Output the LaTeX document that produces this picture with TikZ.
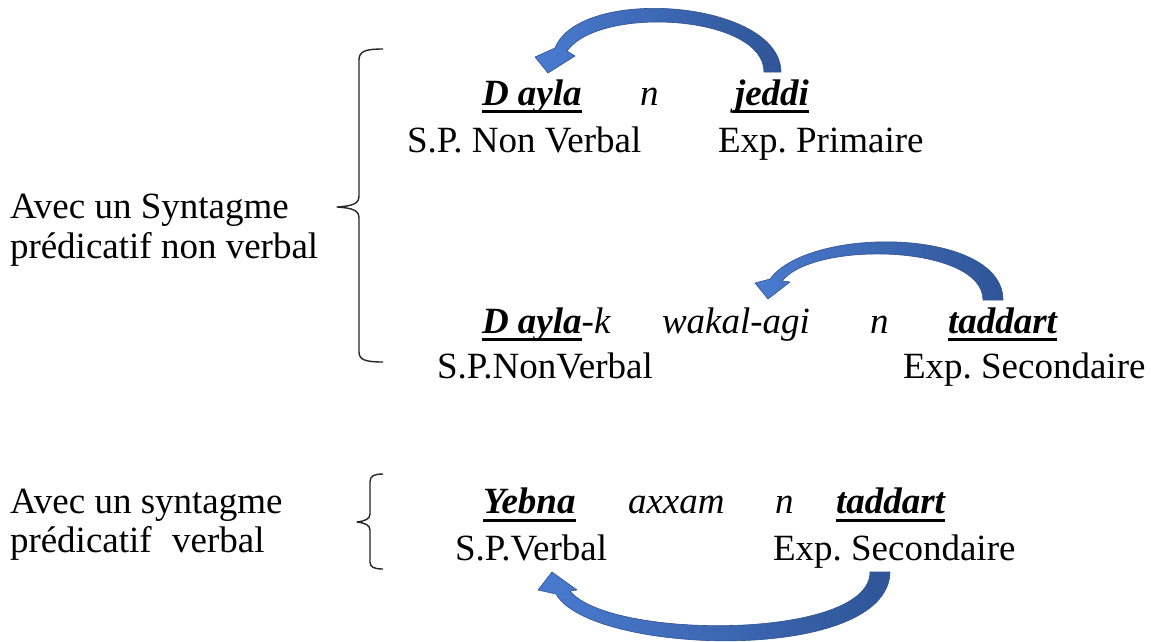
\documentclass[tikz,border=0pt]{standalone}
\usepackage{fontspec}
\setmainfont{Liberation Serif}[
  BoldFont={Liberation Serif Bold},
  ItalicFont={Liberation Serif Italic},
  BoldItalicFont={Liberation Serif Bold Italic}]
\frenchspacing
\begin{document}
\begin{tikzpicture}[x=1pt,y=-1pt,
  txt/.style={anchor=base west,inner sep=0pt,outer sep=0pt,font=\fontsize{37}{42}\selectfont},
  it/.style={txt,font=\fontsize{37}{42}\selectfont\itshape},
  bi/.style={txt,font=\fontsize{37}{42}\selectfont\bfseries\itshape},
  ulline/.style={line width=3pt,black},
  bracestyle/.style={line width=1.4pt,draw=black!85,line join=round},
  blockarrow/.style={left color=arrowlight,right color=arrowdark,draw=arrowedge,line width=0.6pt,line join=round}]
\definecolor{arrowlight}{HTML}{4A7BD0}
\definecolor{arrowdark}{HTML}{2F5597}
\definecolor{arrowedge}{HTML}{2F528F}
\useasboundingbox (0,0) rectangle (1151,641);
\fill[white] (0,0) rectangle (1151,641);

% left labels
\node[txt] (l1a) at (10,218) {Avec un Syntagme};
\node[txt] (l1b) at (10,258) {prédicatif non verbal};
\node[txt] (l2a) at (10,513) {Avec un syntagme};
\node[txt] (l2b) at (10,552) {prédicatif\hspace{0.3em} verbal};

% braces
\draw[bracestyle] (383,49) .. controls (366,49) and (359,51) .. (359,60) -- (359,196)
  .. controls (359,204) and (352,206) .. (337,207) .. controls (352,208) and (359,210) .. (359,218)
  -- (359,352) .. controls (359,360) and (366,362) .. (383,362);
\draw[bracestyle] (383,474) .. controls (374,474) and (370,476) .. (370,482) -- (370,514)
  .. controls (370,519) and (365,521) .. (357,522) .. controls (365,523) and (370,525) .. (370,530)
  -- (370,562) .. controls (370,567) and (374,569) .. (383,569);

% row 1
\node[bi] (da1) at (482,105) {D ayla};
\node[it] (n1) at (640,105) {n};
\node[bi] (je) at (735,105) {jeddi};
\draw[ulline] ([yshift=-6pt]da1.base west) -- ([yshift=-6pt]da1.base east);
\draw[ulline] ([yshift=-6pt,xshift=-2pt]je.base west) -- ([yshift=-6pt]je.base east);
% row 2
\node[txt] (sp1) at (407,152) {S.P. Non Verbal};
\node[txt] (ep1) at (718,152) {Exp. Primaire};

% row 3
\node[bi] (da2) at (482,333) {D ayla};
\node[it] (k2) at (da2.base east) {-k};
\node[it] (wa) at (662,333) {wakal-agi};
\node[it] (n2) at (870,333) {n};
\node[bi] (ta1) at (948,333) {taddart};
\draw[ulline] ([yshift=-6pt]da2.base west) -- ([yshift=-6pt]da2.base east);
\draw[ulline] ([yshift=-6pt]ta1.base west) -- ([yshift=-6pt]ta1.base east);
% row 4
\node[txt] (sp2) at (437,378) {S.P.NonVerbal};
\node[txt] (es1) at (903,378) {Exp. Secondaire};

% row 5
\node[bi] (ye) at (483,513) {Yebna};
\node[it] (ax) at (628,513) {axxam};
\node[it] (n3) at (775,513) {n};
\node[bi] (ta2) at (836,513) {taddart};
\draw[ulline] ([yshift=-7pt]ye.base west) -- ([yshift=-7pt]ye.base east);
\draw[ulline] ([yshift=-7pt]ta2.base west) -- ([yshift=-7pt]ta2.base east);
% row 6
\node[txt] (sp3) at (455,560) {S.P.Verbal};
\node[txt] (es2) at (773,560) {Exp. Secondaire};

% curved block arrows
\path[blockarrow] (764,72) -- (781,72) .. controls (780,0) and (580,-15) .. (555,48)
  -- (535,57) -- (548,73) -- (575,56) -- (567,51) .. controls (600,5) and (764,15) .. (764,72) -- cycle;
\path[blockarrow] (983,300) -- (1003,300) .. controls (1003,228) and (810,225) .. (770,279)
  -- (755,283) -- (768,299) -- (790,282) -- (782,281) .. controls (815,240) and (983,245) .. (983,300) -- cycle;
\path[blockarrow] (870,572) -- (890,572) .. controls (888,665) and (590,655) .. (556,594)
  -- (538,590) -- (552,572) -- (577,590) -- (570,591) .. controls (610,640) and (870,640) .. (870,572) -- cycle;
\end{tikzpicture}
\end{document}
